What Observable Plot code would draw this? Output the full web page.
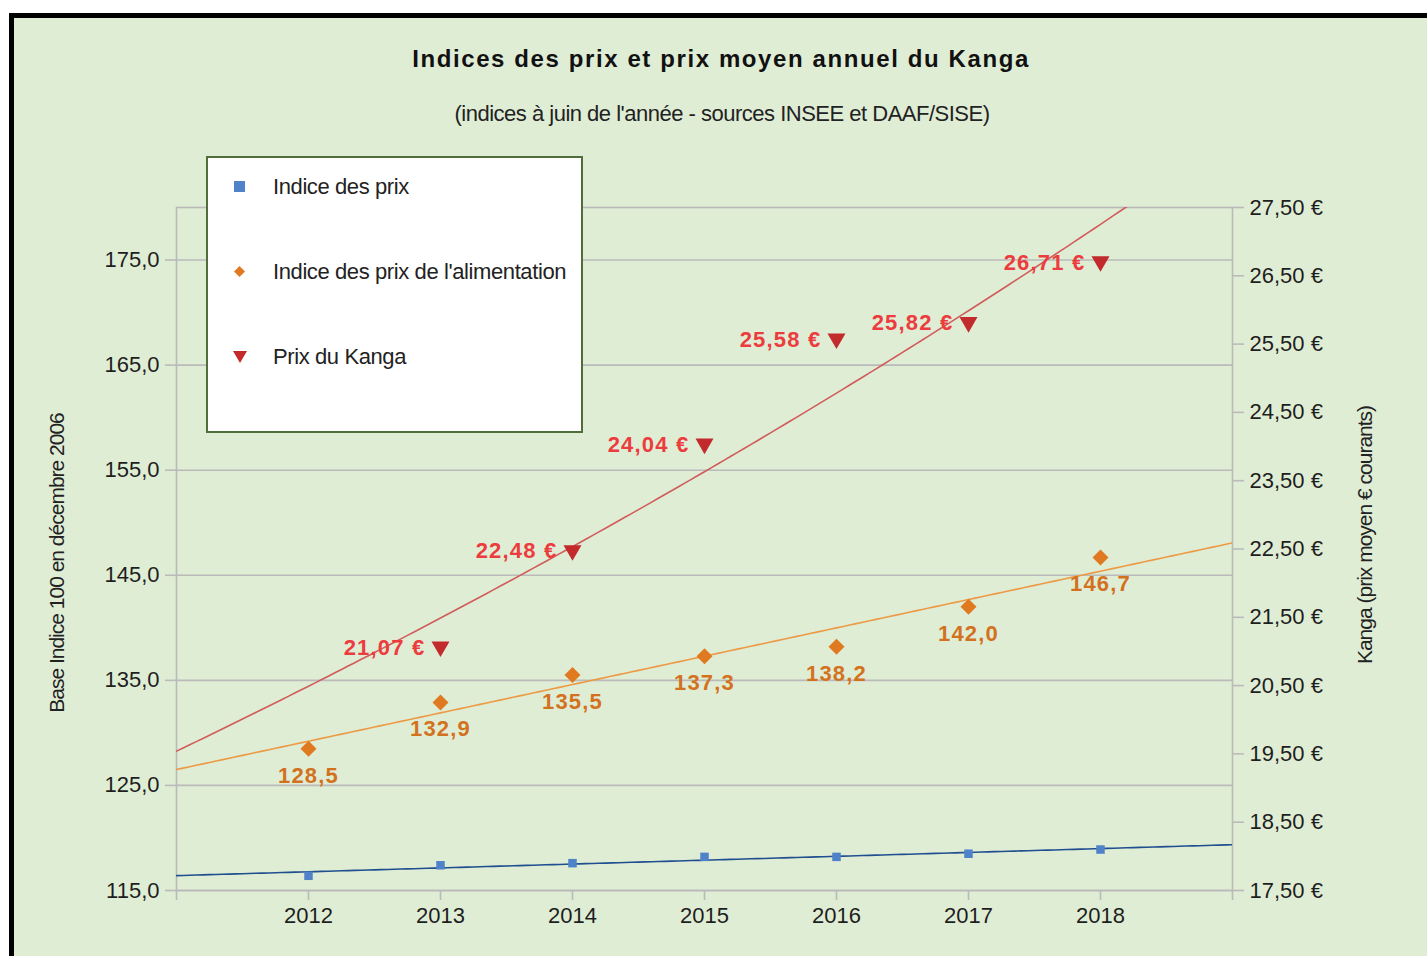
<!DOCTYPE html>
<html>
<head>
<meta charset="utf-8">
<script src="https://cdn.jsdelivr.net/npm/d3@7"></script>
<script src="https://cdn.jsdelivr.net/npm/@observablehq/plot@0.6"></script>
<style>
  html, body { margin: 0; padding: 0; background: #ffffff; overflow: hidden; width: 1427px; height: 956px; font-family: "Liberation Sans", Arial, sans-serif; }
  #bg { position: absolute; left: 9px; top: 13px; width: 1500px; height: 1000px; background: #e0edd5; border-left: 5px solid #000; border-top: 5px solid #000; }
  #chart { position: absolute; left: 0; top: 0; }
  #title { position: absolute; left: 0; width: 1442px; top: 45px; text-align: center; font-weight: bold; font-size: 24px; letter-spacing: 1.6px; color: #111; }
  #subtitle { position: absolute; left: 0; width: 1444px; top: 101px; text-align: center; font-size: 22px; letter-spacing: -0.5px; color: #222; }
  #legend { position: absolute; left: 206px; top: 156px; width: 373px; height: 273px; background: #fff; border: 2px solid #4e6e3c; }
  .item { position: absolute; left: 0; height: 30px; }
  .item svg { position: absolute; left: 24px; top: 5px; }
  .item span { position: absolute; left: 65px; top: 2px; font-size: 22px; letter-spacing: -0.4px; color: #222; white-space: nowrap; }
  .ylab { position: absolute; font-size: 21px; letter-spacing: -1px; color: #222; white-space: nowrap; transform-origin: center center; }
  g[font-weight="bold"] text { letter-spacing: 1.2px; }
</style>
</head>
<body>
<div id="bg"></div>
<div id="title">Indices des prix et prix moyen annuel du Kanga</div>
<div id="subtitle">(indices à juin de l'année - sources INSEE et DAAF/SISE)</div>
<div id="chart"></div>
<div id="legend"></div>
<div class="ylab" id="ylabL">Base Indice 100 en décembre 2006</div>
<div class="ylab" id="ylabR">Kanga (prix moyen € courants)</div>
<script>
// ---- Data ----
const years = [2012, 2013, 2014, 2015, 2016, 2017, 2018];
const indicePrix = [116.4, 117.4, 117.6, 118.2, 118.2, 118.5, 118.9];
const indiceAlim = [128.5, 132.9, 135.5, 137.3, 138.2, 142.0, 146.7];
const kangaYears = [2013, 2014, 2015, 2016, 2017, 2018];
const kangaPrix = [21.07, 22.48, 24.04, 25.58, 25.82, 26.71];
// ticks
const xTicks = [2011, 2012, 2013, 2014, 2015, 2016, 2017, 2018, 2019];
const leftTicks = [115, 125, 135, 145, 155, 165, 175];
const rightTicks = [17.5, 18.5, 19.5, 20.5, 21.5, 22.5, 23.5, 24.5, 25.5, 26.5, 27.5];
const leftDomain = [115, 180];
const rightDomain = [17.5, 27.5];
const xDomain = [2011, 2019];
const seriesNames = ["Indice des prix", "Indice des prix de l'alimentation", "Prix du Kanga"];

// ---- Colors ----
const cBlue = "#4f82c8", cBlueLine = "#1f4f8f";
const cOrange = "#e07a20", cOrangeLine = "#ec9a45", cOrangeText = "#d3721e";
const cRed = "#c22a2c", cRedLine = "#d15c5c", cRedText = "#ec3c3e";
const gridC = "#bababa";

// secondary axis -> primary scale
const k = (leftDomain[1] - leftDomain[0]) / (rightDomain[1] - rightDomain[0]);
const toLeft = v => leftDomain[0] + (v - rightDomain[0]) * k;
const fromLeft = v => rightDomain[0] + (v - leftDomain[0]) / k;

const prix = years.map((x, i) => ({x, y: indicePrix[i]}));
const alim = years.map((x, i) => ({x, y: indiceAlim[i]}));
const kanga = kangaYears.map((x, i) => ({x, v: kangaPrix[i], y: toLeft(kangaPrix[i])}));

// trend lines: least-squares fits computed from the data (linear, and exponential for the Kanga)
function linFit(xs, ys) {
  const mx = d3.mean(xs), my = d3.mean(ys);
  const b = d3.sum(xs, (x, i) => (x - mx) * (ys[i] - my)) / d3.sum(xs, x => (x - mx) ** 2);
  return x => my + b * (x - mx);
}
const fPrix = linFit(years, indicePrix);
const fAlim = linFit(years, indiceAlim);
const fLogKanga = linFit(kangaYears, kangaPrix.map(Math.log));
const fKanga = x => Math.exp(fLogKanga(x));
const xs = d3.range(0, 161).map(i => xDomain[0] + (xDomain[1] - xDomain[0]) * i / 160);
const tPrix = xs.map(x => ({x, y: fPrix(x)}));
const tAlim = xs.map(x => ({x, y: fAlim(x)}));
const tKanga = xs.map(x => ({x, y: toLeft(fKanga(x))}));

const fr = (v, d) => v.toFixed(d).replace(".", ",");

const chart = Plot.plot({
  width: 1427,
  height: 956,
  marginLeft: 176,
  marginRight: 195,
  marginTop: 207,
  marginBottom: 66,
  style: {background: "none", fontFamily: "Liberation Sans, Arial, sans-serif", overflow: "visible"},
  x: {domain: xDomain},
  y: {domain: leftDomain},
  marks: [
    Plot.gridY(leftTicks, {stroke: gridC, strokeOpacity: 1, strokeWidth: 1.6}),
    Plot.frame({stroke: gridC, strokeWidth: 1.6}),
    Plot.axisY({ticks: leftTicks, tickFormat: d => fr(d, 1), tickSize: 11, tickPadding: 6, fontSize: 22, stroke: gridC, strokeWidth: 1.6, fill: "#1e1e1e", label: null}),
    Plot.axisY({anchor: "right", ticks: rightTicks.map(toLeft), tickFormat: d => fr(fromLeft(d), 2) + " €", tickSize: 11, tickPadding: 6, fontSize: 22, stroke: gridC, strokeWidth: 1.6, fill: "#1e1e1e", label: null}),
    Plot.axisX({ticks: xTicks, tickFormat: d => (d > xDomain[0] && d < xDomain[1]) ? String(d) : "", tickSize: 10, tickPadding: 7, fontSize: 22, stroke: gridC, strokeWidth: 1.6, fill: "#1e1e1e", label: null}),
    Plot.line(tPrix, {x: "x", y: "y", stroke: cBlueLine, strokeWidth: 1.6, clip: true}),
    Plot.line(tAlim, {x: "x", y: "y", stroke: cOrangeLine, strokeWidth: 1.6, clip: true}),
    Plot.line(tKanga, {x: "x", y: "y", stroke: cRedLine, strokeWidth: 1.6, clip: true}),
    Plot.dot(prix, {x: "x", y: "y", symbol: "square", r: 4.8, fill: cBlue}),
    Plot.dot(alim, {x: "x", y: "y", symbol: "diamond2", r: 7.2, fill: cOrange}),
    Plot.dot(kanga, {x: "x", y: "y", symbol: "triangle2", r: 8.6, fill: cRed, rotate: 180}),
    Plot.text(alim, {x: "x", y: "y", text: d => fr(d.y, 1), dy: 27, fill: cOrangeText, fontWeight: "bold", fontSize: 22}),
    Plot.text(kanga, {x: "x", y: "y", text: d => fr(d.v, 2) + " €", dx: -15, dy: 1, textAnchor: "end", fill: cRedText, fontWeight: "bold", fontSize: 22})
  ]
});
document.getElementById("chart").appendChild(chart);

// legend
const legend = document.getElementById("legend");
const legSymbols = [
  `<svg width="16" height="20"><rect x="2" y="4" width="11" height="11" fill="${cBlue}"/></svg>`,
  `<svg width="16" height="20"><path d="M7.5,4 L13,9.5 L7.5,15 L2,9.5Z" fill="${cOrange}"/></svg>`,
  `<svg width="16" height="20"><path d="M1,4 L15,4 L8,16Z" fill="${cRed}"/></svg>`
];
const legTops = [14, 99, 184];
seriesNames.forEach((name, i) => {
  const d = document.createElement("div");
  d.className = "item";
  d.style.top = legTops[i] + "px";
  d.innerHTML = legSymbols[i] + `<span>${name}</span>`;
  legend.appendChild(d);
});

// axis titles
const lL = document.getElementById("ylabL");
const lR = document.getElementById("ylabR");
function place(el, cx, cy) {
  const w = el.offsetWidth, h = el.offsetHeight;
  el.style.left = (cx - w / 2) + "px";
  el.style.top = (cy - h / 2) + "px";
  el.style.transform = "rotate(-90deg)";
}
place(lL, 57, 563);
place(lR, 1365, 535);
</script>
</body>
</html>
